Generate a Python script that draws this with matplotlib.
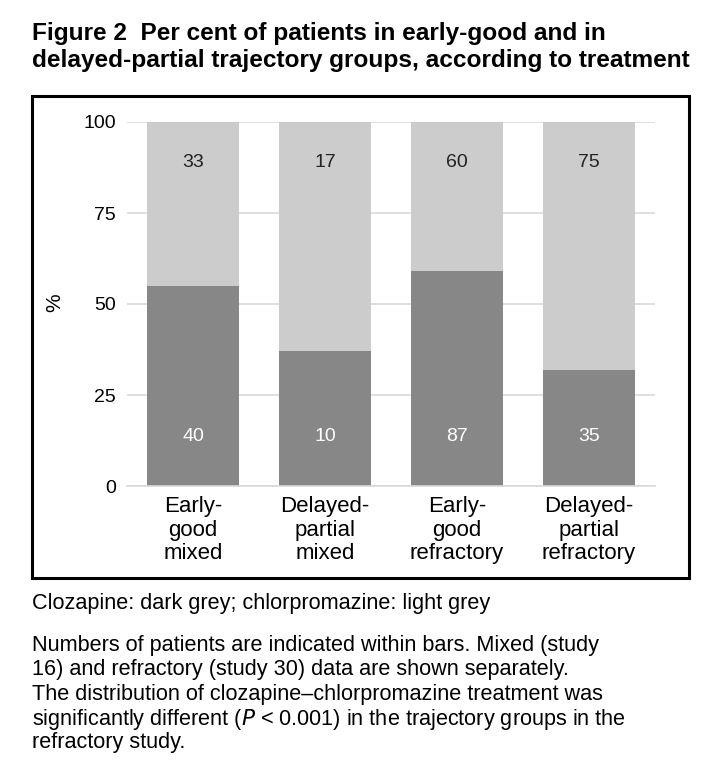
import matplotlib
matplotlib.use("Agg")
import matplotlib.pyplot as plt
from matplotlib.patches import Rectangle
import numpy as np

plt.rcParams['font.family'] = ['Liberation Sans', 'DejaVu Sans']

categories = ["Early-\ngood\nmixed", "Delayed-\npartial\nmixed",
              "Early-\ngood\nrefractory", "Delayed-\npartial\nrefractory"]
clozapine_pct = [55, 37, 59, 32]
clozapine_n = [40, 10, 87, 35]
chlorpromazine_n = [33, 17, 60, 75]
yticks = [0, 25, 50, 75, 100]

caption_lines = [
    "Numbers of patients are indicated within bars. Mixed (study",
    "16) and refractory (study 30) data are shown separately.",
    "The distribution of clozapine\u2013chlorpromazine treatment was",
    "significantly different ($\\it{P}$ < 0.001) in the trajectory groups in the",
    "refractory study.",
]

dark = "#878787"
light = "#cccccc"

fig = plt.figure(figsize=(7.14, 7.73), dpi=100)
W, H = 714, 773

def fx(px):
    return px / W

def fy(py):
    return 1 - py / H

# title
fig.text(fx(32), fy(47), "Figure 2  Per cent of patients in early-good and in\n"
         "delayed-partial trajectory groups, according to treatment",
         fontsize=17.6, fontweight="bold", va="center", ha="left", linespacing=1.23)

# frame around the chart
fig.patches.append(Rectangle((fx(32), fy(578)), fx(689) - fx(32), fy(96) - fy(578),
                             transform=fig.transFigure, fill=False, lw=2.2,
                             edgecolor="black"))

ax = fig.add_axes([fx(127), fy(486), fx(655) - fx(127), fy(122) - fy(486)])
x = np.arange(len(categories))
light_pct = [100 - v for v in clozapine_pct]
ax.bar(x, clozapine_pct, width=0.7, color=dark, zorder=2)
ax.bar(x, light_pct, bottom=clozapine_pct, width=0.7, color=light, zorder=2)

for i in range(len(categories)):
    ax.text(x[i], 13.5, str(clozapine_n[i]), ha="center", va="center",
            color="white", fontsize=14)
    ax.text(x[i], 89, str(chlorpromazine_n[i]), ha="center", va="center",
            color="#222222", fontsize=14)

ax.set_xlim(-0.5, 3.5)
ax.set_ylim(0, 100)
ax.set_yticks(yticks)
ax.set_yticklabels([str(t) for t in yticks], fontsize=14)
ax.yaxis.grid(True, color="#d9d9d9", lw=1.2, zorder=0)
ax.set_axisbelow(True)
ax.tick_params(axis="y", length=0, pad=8)
ax.tick_params(axis="x", length=0, pad=7)
ax.set_xticks(x)
ax.set_xticklabels(categories, fontsize=16, linespacing=1.18)
for s in ["top", "right", "left"]:
    ax.spines[s].set_visible(False)
ax.spines["bottom"].set_color("#d9d9d9")
ax.spines["bottom"].set_linewidth(1.2)

fig.text(fx(55), fy(303), "%", rotation=90, fontsize=15, ha="center", va="center")

# caption
fig.text(fx(32), fy(604), "Clozapine: dark grey; chlorpromazine: light grey",
         fontsize=15.6, ha="left", va="center")
for k, line in enumerate(caption_lines):
    fig.text(fx(32), fy(643 + 24.3 * k), line, fontsize=15.6,
             ha="left", va="center_baseline")

fig.savefig("out.png", dpi=100)
